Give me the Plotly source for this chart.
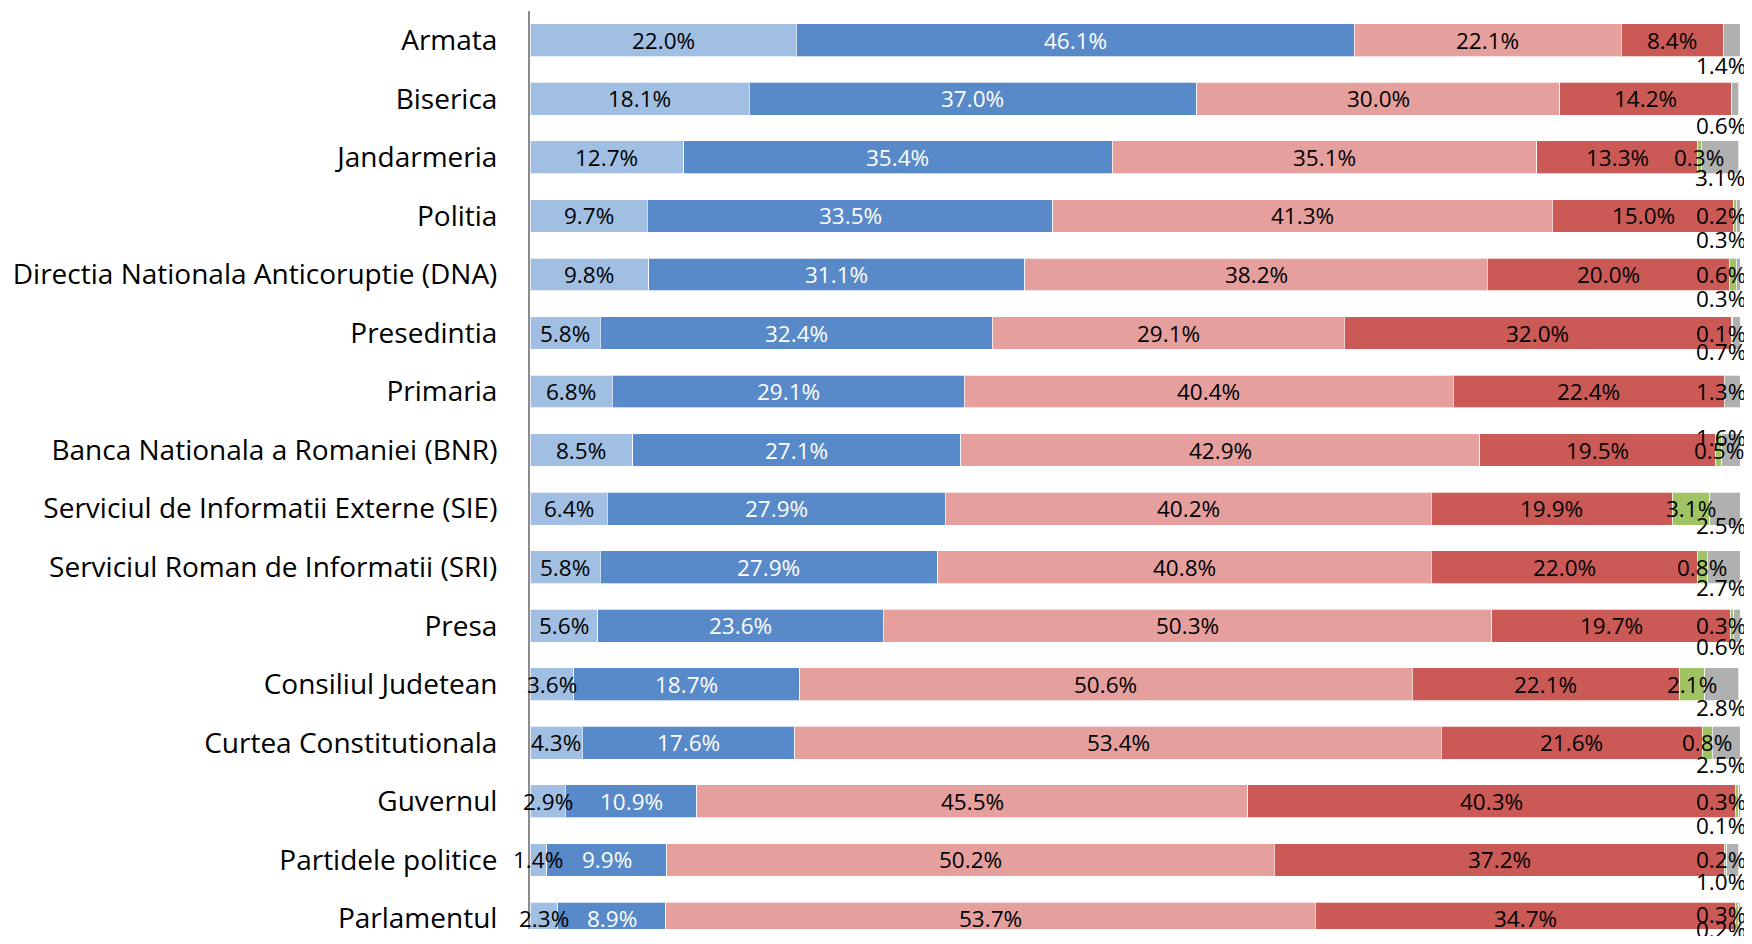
import plotly.graph_objects as go

categories = ["Armata", "Biserica", "Jandarmeria", "Politia",
              "Directia Nationala Anticoruptie (DNA)", "Presedintia", "Primaria",
              "Banca Nationala a Romaniei (BNR)", "Serviciul de Informatii Externe (SIE)",
              "Serviciul Roman de Informatii (SRI)", "Presa", "Consiliul Judetean",
              "Curtea Constitutionala", "Guvernul", "Partidele politice", "Parlamentul"]

foarte_multa = [22.0, 18.1, 12.7, 9.7, 9.8, 5.8, 6.8, 8.5, 6.4, 5.8, 5.6, 3.6, 4.3, 2.9, 1.4, 2.3]
destul_multa = [46.1, 37.0, 35.4, 33.5, 31.1, 32.4, 29.1, 27.1, 27.9, 27.9, 23.6, 18.7, 17.6, 10.9, 9.9, 8.9]
destul_putina = [22.1, 30.0, 35.1, 41.3, 38.2, 29.1, 40.4, 42.9, 40.2, 40.8, 50.3, 50.6, 53.4, 45.5, 50.2, 53.7]
foarte_putina = [8.4, 14.2, 13.3, 15.0, 20.0, 32.0, 22.4, 19.5, 19.9, 22.0, 19.7, 22.1, 21.6, 40.3, 37.2, 34.7]
ns = [0.0, 0.0, 0.3, 0.2, 0.6, 0.1, 0.0, 0.5, 3.1, 0.8, 0.3, 2.1, 0.8, 0.3, 0.2, 0.3]
nr = [1.4, 0.6, 3.1, 0.3, 0.3, 0.7, 1.3, 1.6, 2.5, 2.7, 0.6, 2.8, 2.5, 0.1, 1.0, 0.2]

series = [
    ("Foarte multa incredere", foarte_multa, "#A1BFE3", "black"),
    ("Destul de multa incredere", destul_multa, "#5889C8", "white"),
    ("Destul de putina incredere", destul_putina, "#E59F9D", "black"),
    ("Foarte putina incredere", foarte_putina, "#CB5A56", "black"),
    ("NS", ns, "#A0C363", "black"),
    ("NR", nr, "#B0B0B0", "black"),
]

FONT = "Open Sans"
LABEL_SIZE = 22.5
fig = go.Figure()
for name, vals, color, tcolor in series:
    fig.add_trace(go.Bar(
        y=categories, x=vals, name=name, orientation="h",
        marker=dict(color=color, line=dict(color="rgba(255,255,255,0.7)", width=1)),
        cliponaxis=False,
        hoverinfo="x+name",
    ))

# value labels as annotations so they sit on top of neighbouring segments
green_dy = [0, 0, 0, 0, 0, 0, 0, 0, 0, 0, 0, 0, 0, 0, 0, 4]
gray_dy = [25, 27, 20, 24, 24, 18, 0, -13, 17, 20, 21, 23, 22, 24, 22, 11]
CLAMP = 98.4
annotations = []
for j, cat in enumerate(categories):
    start = 0.0
    for k in range(4):
        name, vals, color, tcolor = series[k]
        v = vals[j]
        annotations.append(dict(x=start + v / 2, y=cat, xref="x", yref="y",
                                text=f"{v:.1f}%", showarrow=False,
                                xanchor="center", yanchor="middle",
                                font=dict(family=FONT, size=LABEL_SIZE, color=tcolor)))
        start += v
    if ns[j] > 0:
        xc = min(start + ns[j] / 2, CLAMP)
        annotations.append(dict(x=xc, y=cat, xref="x", yref="y", text=f"{ns[j]:.1f}%",
                                showarrow=False, xanchor="center", yanchor="middle",
                                yshift=green_dy[j],
                                font=dict(family=FONT, size=LABEL_SIZE, color="black")))
    xc = min(start + ns[j] + nr[j] / 2, CLAMP)
    annotations.append(dict(x=xc, y=cat, xref="x", yref="y", text=f"{nr[j]:.1f}%",
                            showarrow=False, xanchor="center", yanchor="middle",
                            yshift=-gray_dy[j],
                            font=dict(family=FONT, size=LABEL_SIZE, color="black")))

fig.update_layout(
    barmode="stack",
    bargap=0.44,
    width=1744, height=928,
    margin=dict(l=522, r=12, t=3, b=0),
    paper_bgcolor="white", plot_bgcolor="white",
    showlegend=False,
    annotations=annotations,
    xaxis=dict(range=[0, 100], showticklabels=False, showgrid=False, zeroline=False,
               showline=False, ticks=""),
    yaxis=dict(type="category", range=[15.18, -0.5], showgrid=False, zeroline=False,
               showline=True, linecolor="#8C8C8C", linewidth=2, ticks="",
               ticklabelstandoff=25,
               tickfont=dict(family=FONT, size=28, color="black")),
)

fig.write_html("out.html")
